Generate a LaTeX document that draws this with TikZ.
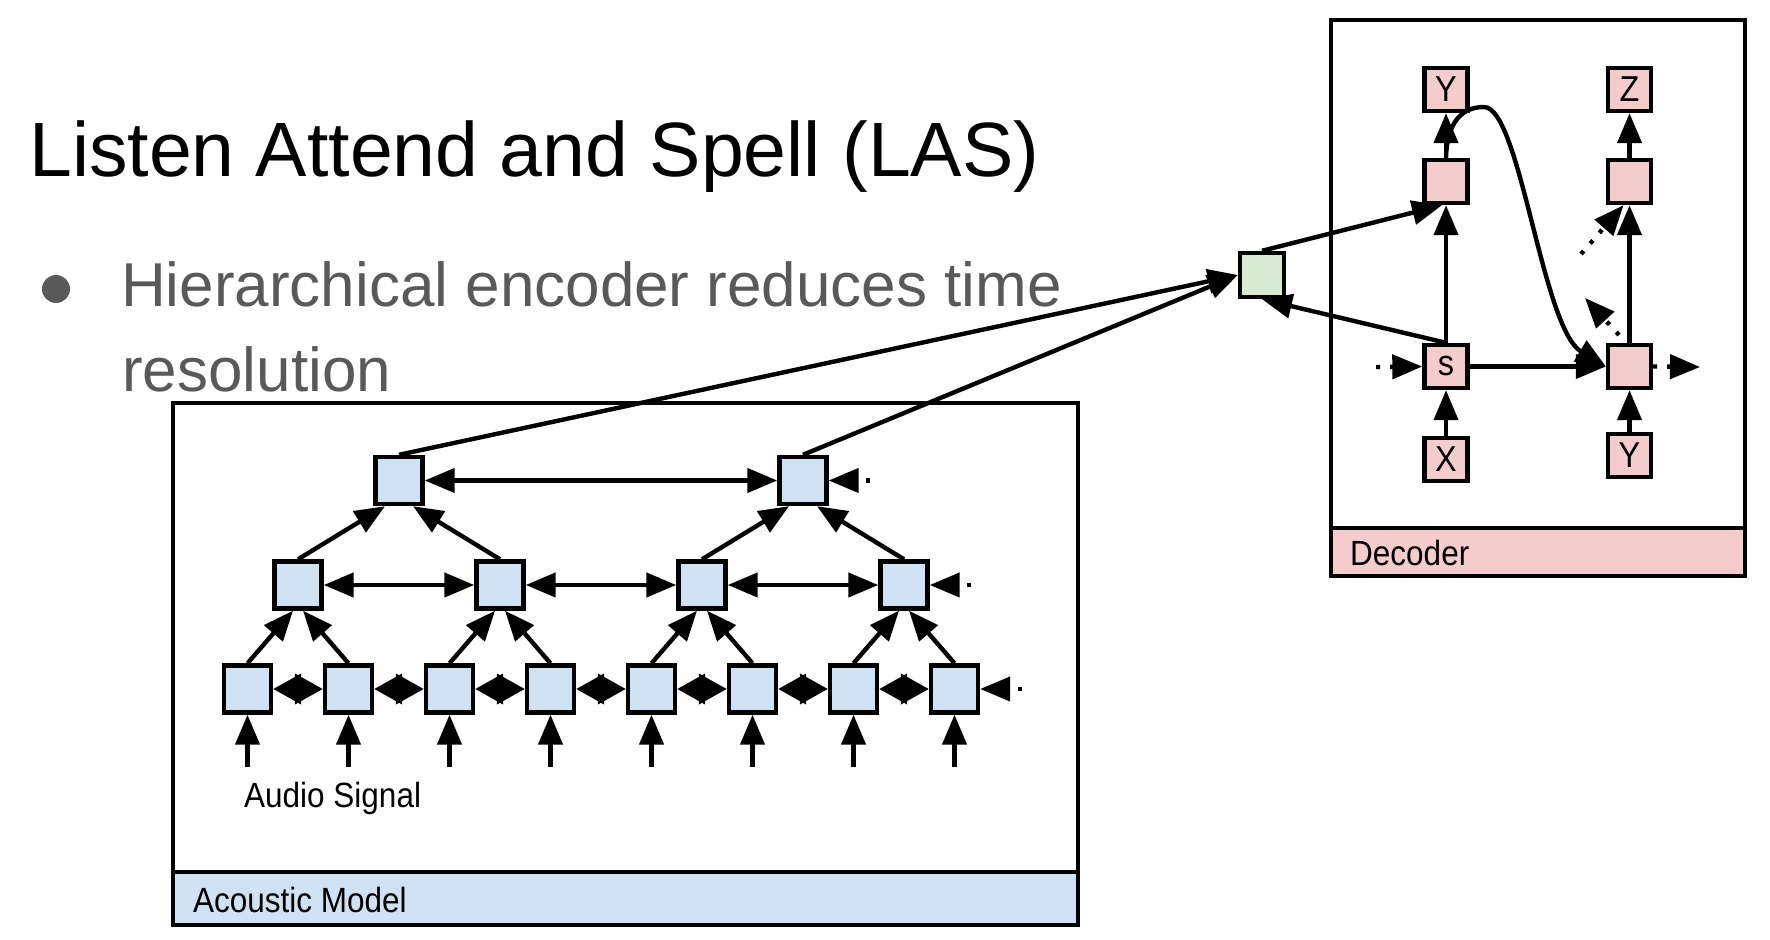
\documentclass[tikz,border=0pt]{standalone}
\usepackage{fontspec}
\setmainfont{Liberation Sans}
\newfontfamily\condfont[FakeStretch=0.9]{Liberation Sans}
\usetikzlibrary{arrows.meta}

\definecolor{amblue}{RGB}{207,226,243}
\definecolor{decpink}{RGB}{244,204,204}
\definecolor{attgreen}{RGB}{217,234,211}
\definecolor{bulletgray}{RGB}{89,89,89}

\tikzset{every picture/.style={line width=2.2pt}}
\tikzset{
  amcell/.style={draw, fill=amblue, minimum size=23.5pt, inner sep=0pt},
  deccell/.style={draw, fill=decpink, minimum size=21.5pt, inner sep=0pt, font=\condfont\fontsize{18}{18}\selectfont},
  attcell/.style={draw, fill=attgreen, minimum size=22pt, inner sep=0pt},
  arr/.style={-{Triangle[length=15pt,width=12pt]}},
  biarr/.style={{Triangle[length=15pt,width=12pt]}-{Triangle[length=15pt,width=12pt]}},
  diamarr/.style={{Triangle[length=14pt,width=15pt]}-{Triangle[length=14pt,width=15pt]}},
  dotarr/.style={arr, dash pattern={on 2pt off 5pt}},
  label/.style={anchor=base west, inner sep=0pt, font=\condfont\fontsize{17.5}{17.5}\selectfont},
}

\begin{document}
\begin{tikzpicture}[x=0.5pt,y=0.5pt,yscale=-1,xscale=1]
\useasboundingbox (0,0) rectangle (1770,940);

% Title
\node (title) [anchor=base west, inner sep=0pt, font=\fontsize{38.5}{46}\selectfont] at (27,177) {Listen Attend and Spell (LAS)};
% Bullet
\node (dot) [circle, fill=bulletgray, minimum size=14pt, inner sep=0pt] at (56,289) {};
\node (point) [anchor=base west, inner sep=0pt, text=bulletgray, font=\fontsize{31}{37}\selectfont] at (119,307) {Hierarchical encoder reduces time};
\node (point2) [anchor=base west, inner sep=0pt, text=bulletgray, font=\fontsize{31}{37}\selectfont] at (120,392) {resolution};

% Acoustic model panel
\draw (173,403) rectangle (1078,925);
\draw [fill=amblue] (173,872) rectangle (1078,925);
\node (amlabel) [label] at (191,912) {Acoustic Model};

% Decoder panel
\draw (1331,20) rectangle (1745,576);
\draw [fill=decpink] (1331,528) rectangle (1745,576);
\node (declabel) [label] at (1348,565) {Decoder};

% Bottom row
\node (b1) [amcell] at (247.5,689) {};
\node (b2) [amcell] at (348.5,689) {};
\node (b3) [amcell] at (449.5,689) {};
\node (b4) [amcell] at (550.5,689) {};
\node (b5) [amcell] at (651.5,689) {};
\node (b6) [amcell] at (752.5,689) {};
\node (b7) [amcell] at (853.5,689) {};
\node (b8) [amcell] at (954.5,689) {};
% Middle row
\node (m1) [amcell] at (298,585) {};
\node (m2) [amcell] at (500,585) {};
\node (m3) [amcell] at (702,585) {};
\node (m4) [amcell] at (904,585) {};
% Top row
\node (t1) [amcell] at (399,480.5) {};
\node (t2) [amcell] at (803,480.5) {};

% Audio inputs
\coordinate (in1) at (247.5,767);
\coordinate (in2) at (348.5,767);
\coordinate (in3) at (449.5,767);
\coordinate (in4) at (550.5,767);
\coordinate (in5) at (651.5,767);
\coordinate (in6) at (752.5,767);
\coordinate (in7) at (853.5,767);
\coordinate (in8) at (954.5,767);
\node (audio) [label] at (242,807) {Audio Signal};

% Attention
\node (att) [attcell] at (1262,275) {};

% Decoder cells
\node (yout1) [deccell] at (1446,89.5) {Y};
\node (h1) [deccell] at (1446,181.5) {};
\node (s1) [deccell] at (1446,366.5) {s};
\node (xin) [deccell] at (1446,459.5) {X};
\node (zout) [deccell] at (1629.5,89.5) {Z};
\node (h2) [deccell] at (1629.5,181.5) {};
\node (s2) [deccell] at (1629.5,366.5) {};
\node (yin) [deccell] at (1629.5,455.5) {Y};

% Inputs to bottom row
\draw [arr] (in1) -- (b1.south);
\draw [arr] (in2) -- (b2.south);
\draw [arr] (in3) -- (b3.south);
\draw [arr] (in4) -- (b4.south);
\draw [arr] (in5) -- (b5.south);
\draw [arr] (in6) -- (b6.south);
\draw [arr] (in7) -- (b7.south);
\draw [arr] (in8) -- (b8.south);

% Bottom row both ways
\draw [diamarr] (b1.east) -- (b2.west);
\draw [diamarr] (b2.east) -- (b3.west);
\draw [diamarr] (b3.east) -- (b4.west);
\draw [diamarr] (b4.east) -- (b5.west);
\draw [diamarr] (b5.east) -- (b6.west);
\draw [diamarr] (b6.east) -- (b7.west);
\draw [diamarr] (b7.east) -- (b8.west);
\coordinate (bmore) at (1022,689);
\draw [dotarr] (bmore) -- (b8.east);

% Bottom to middle
\draw [arr] (b1.north) -- ([xshift=-2.5pt]m1.south);
\draw [arr] (b2.north) -- ([xshift=2.5pt]m1.south);
\draw [arr] (b3.north) -- ([xshift=-2.5pt]m2.south);
\draw [arr] (b4.north) -- ([xshift=2.5pt]m2.south);
\draw [arr] (b5.north) -- ([xshift=-2.5pt]m3.south);
\draw [arr] (b6.north) -- ([xshift=2.5pt]m3.south);
\draw [arr] (b7.north) -- ([xshift=-2.5pt]m4.south);
\draw [arr] (b8.north) -- ([xshift=2.5pt]m4.south);

% Middle row both ways
\draw [biarr] (m1.east) -- (m2.west);
\draw [biarr] (m2.east) -- (m3.west);
\draw [biarr] (m3.east) -- (m4.west);
\coordinate (mmore) at (971,585);
\draw [dotarr] (mmore) -- (m4.east);

% Middle to top
\draw [arr] (m1.north) -- ([xshift=-7pt]t1.south);
\draw [arr] (m2.north) -- ([xshift=7pt]t1.south);
\draw [arr] (m3.north) -- ([xshift=-7pt]t2.south);
\draw [arr] (m4.north) -- ([xshift=7pt]t2.south);

% Top row both ways
\draw [biarr] (t1.east) -- (t2.west);
\coordinate (tmore) at (870,480.5);
\draw [dotarr] (tmore) -- (t2.east);

% Encoder to attention
\draw [arr] (t1.north) -- (att.west);
\draw [arr] (t2.north) -- (att.west);
\draw [arr] (att.north) -- ([xshift=-2pt]h1.south);
\draw [arr] (s1.north) -- (att.south);

% Decoder columns
\draw [arr] (xin) -- (s1);
\draw [arr] (s1) -- (h1);
\draw [arr] (h1) -- (yout1);
\draw [arr] (yin) -- (s2);
\draw [arr] (s2) -- (h2);
\draw [arr] (h2) -- (zout);
\draw [arr] (s1) -- (s2);

% Output fed back
\coordinate (peak) at (1484,107);
\draw [arr] (h1.north) .. controls (1447,122) and (1462,107) .. (peak) .. controls (1520,107) and (1542,328) .. (s2.west);

% Dotted arrows in decoder
\coordinate (sprev) at (1376,367);
\draw [dotarr] (sprev) -- (s1.west);
\coordinate (snext) at (1700,367);
\draw [dotarr] (s2.east) -- (snext);
\coordinate (ctxin) at (1581,254);
\draw [dotarr] (ctxin) -- ([xshift=-3pt]h2.south);
\coordinate (qout) at (1619,335);
\coordinate (qtip) at (1585,298);
\draw [dotarr] (qout) -- (qtip);
\end{tikzpicture}
\end{document}
